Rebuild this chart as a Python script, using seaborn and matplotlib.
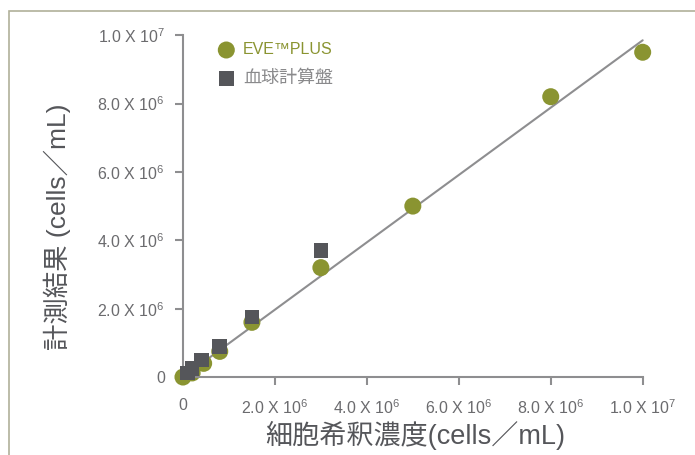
import numpy as np
import pandas as pd
import matplotlib
matplotlib.use("Agg")
import matplotlib.pyplot as plt
import seaborn as sns
from matplotlib.patches import Rectangle

sns.set_style("white")
plt.rcParams['font.family'] = ['Liberation Sans', 'Noto Sans CJK JP', 'DejaVu Sans']
plt.rcParams['mathtext.fontset'] = 'custom'
plt.rcParams['mathtext.rm'] = 'Liberation Sans'
plt.rcParams['mathtext.it'] = 'Liberation Sans'

# data
eve_x = [0, 0.2e6, 0.45e6, 0.8e6, 1.5e6, 3.0e6, 5.0e6, 8.0e6, 1.0e7]
eve_y = [0, 0.12e6, 0.4e6, 0.75e6, 1.6e6, 3.2e6, 5.0e6, 8.2e6, 9.5e6]
hemo_x = [0.1e6, 0.2e6, 0.4e6, 0.8e6, 1.5e6, 3.0e6]
hemo_y = [0.12e6, 0.25e6, 0.5e6, 0.9e6, 1.75e6, 3.7e6]
fit_x = [0, 1.0e7]
fit_y = [0, 0.985e7]
ticks = [0, 2e6, 4e6, 6e6, 8e6, 1e7]
tick_labels = ['0', r'2.0 X 10$^{6}$', r'4.0 X 10$^{6}$', r'6.0 X 10$^{6}$',
               r'8.0 X 10$^{6}$', r'1.0 X 10$^{7}$']

olive = '#8a9431'
dark = '#55565a'
gray = '#8e8e90'

eve = pd.DataFrame({'x': eve_x, 'y': eve_y})
hemo = pd.DataFrame({'x': hemo_x, 'y': hemo_y})

fig = plt.figure(figsize=(6.95, 4.55), dpi=100)
ax = fig.add_axes([0.2368, 0.1413, 0.721, 0.819])

sns.lineplot(x=fit_x, y=fit_y, color=gray, lw=1.5, ax=ax)
sns.scatterplot(data=hemo, x='x', y='y', marker='s', s=110, color=dark,
                edgecolor='none', ax=ax, label='血球計算盤', zorder=3)
sns.scatterplot(data=eve, x='x', y='y', marker='o', s=150, color=olive,
                edgecolor='none', ax=ax, label='EVE™PLUS', zorder=2)

ax.set_xlim(-0.4e6, 1.05e7)
ax.set_ylim(-0.4e6, 1.05e7)
ax.set_xticks(ticks)
ax.set_xticklabels(tick_labels)
ax.set_yticks(ticks)
ax.set_yticklabels(tick_labels)
ax.tick_params(axis='both', colors=gray, labelcolor='#6b6b6e', labelsize=11.5,
               length=6, width=1.5, direction='out', pad=7,
               bottom=True, left=True)
ax.tick_params(axis='x', pad=9)
for side in ['top', 'right']:
    ax.spines[side].set_visible(False)
for side in ['left', 'bottom']:
    ax.spines[side].set_position(('data', 0))
    ax.spines[side].set_bounds(0, 1e7)
    ax.spines[side].set_color(gray)
    ax.spines[side].set_linewidth(1.5)

ax.set_xlabel('細胞希釈濃度(cells／mL)', fontsize=19.5, color=dark, labelpad=3)
ax.set_ylabel('計測結果 (cells／mL)', fontsize=19, color=dark)
ax.yaxis.set_label_coords(-0.186, 0.44)

handles, labels = ax.get_legend_handles_labels()
order = [labels.index('EVE™PLUS'), labels.index('血球計算盤')]
leg = ax.legend([handles[i] for i in order], [labels[i] for i in order],
                loc='upper left', bbox_to_anchor=(0.06, 0.975), frameon=False,
                fontsize=12, handletextpad=0.0, labelspacing=0.75,
                labelcolor=[olive, '#8a8a8c'])
leg.get_texts()[0].set_fontsize(11.5)
leg.get_texts()[1].set_fontsize(13)

fig.patches.append(Rectangle((9 / 695, -0.1), 1.2, 1 - 11 / 455 + 0.1,
                             transform=fig.transFigure, fill=False,
                             edgecolor='#b0b09a', lw=1.2))

fig.savefig('out.png', dpi=100)
